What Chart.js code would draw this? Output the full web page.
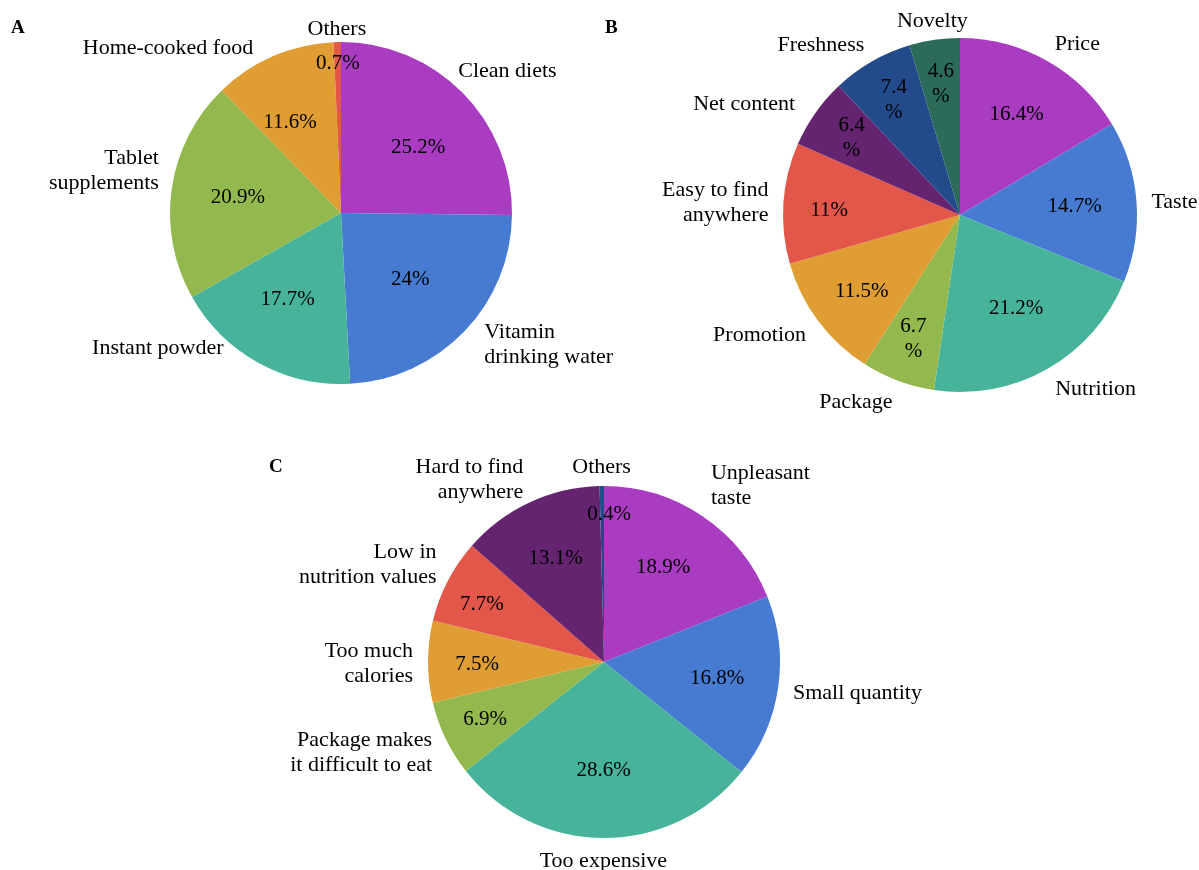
<!DOCTYPE html>
<html>
<head>
<meta charset="utf-8">
<script src="https://cdn.jsdelivr.net/npm/chart.js@4.4.0/dist/chart.umd.min.js"></script>
<style>
  body { margin: 0; background: #fff; }
  #wrap { position: relative; width: 1199px; height: 870px; }
  #wrap canvas { position: absolute; left: 0; top: 0; }
  .panel { position: absolute; font: bold 19px "Liberation Serif", "Times New Roman", serif; color: #000; }
</style>
</head>
<body>
<div id="wrap">
  <canvas id="pie-a" width="1199" height="870"></canvas>
  <canvas id="pie-b" width="1199" height="870"></canvas>
  <canvas id="pie-c" width="1199" height="870"></canvas>
  <div class="panel" style="left:11px;top:16px">A</div>
  <div class="panel" style="left:605px;top:16px">B</div>
  <div class="panel" style="left:269px;top:455px">C</div>
</div>
<script>
const FONT = '"Liberation Serif", "Times New Roman", serif';
const COLORS = ['#a93cc0', '#477bd2', '#47b39a', '#93b84d', '#df9d33', '#e3564a', '#642470', '#234b8c', '#2c6b59'];

// A: ways of getting nutrition
const A_LABELS = ['Clean diets', ['Vitamin', 'drinking water'], 'Instant powder', ['Tablet', 'supplements'], 'Home-cooked food', 'Others'];
const A_VALUES = [25.2, 24, 17.7, 20.9, 11.6, 0.7];

// B: purchase factors
const B_LABELS = ['Price', 'Taste', 'Nutrition', 'Package', 'Promotion', ['Easy to find', 'anywhere'], 'Net content', 'Freshness', 'Novelty'];
const B_VALUES = [16.4, 14.7, 21.2, 6.7, 11.5, 11, 6.4, 7.4, 4.6];

// C: reasons for not buying
const C_LABELS = [['Unpleasant', 'taste'], 'Small quantity', 'Too expensive', ['Package makes', 'it difficult to eat'], ['Too much', 'calories'], ['Low in', 'nutrition values'], ['Hard to find', 'anywhere'], 'Others'];
const C_VALUES = [18.9, 16.8, 28.6, 6.9, 7.5, 7.7, 13.1, 0.4];

// small hand nudges of the text, like the manual label moves in the original
const A_NAME_SHIFT = [[-15, -9], [9, -8], [-28, -35], [2, -16], [-14, 10], [0, 6]];
const A_PCT_SHIFT = [[-2, 13], [-11, -10], [0, -11], [7, 0], [-7, 12], [0, -6]];
const B_NAME_SHIFT = [[0, 0], [0, 0], [0, 0], [0, 0], [0, 0], [0, 0], [-8, 2], [0, 0], [0, 0]];
const B_PCT_SHIFT = [[0, 0], [0, 0], [-1, -6], [0, 0], [-6, 8], [-16, 3], [0, 0], [0, 0], [0, 0]];
const C_NAME_SHIFT = [[0, -10], [0, 0], [0, 0], [0, 0], [0, 0], [2, -5], [0, 0], [0, 0]];
const C_PCT_SHIFT = [[-5, 0], [0, 0], [0, -6], [0, 0], [5, 3], [-5, 3], [0, 0], [7, 0]];

function drawLines(ctx, lines, x, y, align, lh) {
  ctx.textAlign = align;
  ctx.textBaseline = 'middle';
  const top = y - (lines.length - 1) * lh / 2;
  lines.forEach((t, k) => ctx.fillText(t, x, top + k * lh));
}

const pieText = {
  id: 'pieText',
  afterDatasetsDraw(chart, args, opts) {
    const ctx = chart.ctx;
    const meta = chart.getDatasetMeta(0);
    const values = chart.data.datasets[0].data;
    const labels = chart.data.labels;
    const lh = 25;
    ctx.save();
    ctx.fillStyle = '#000';
    meta.data.forEach((arc, i) => {
      const p = arc.getProps(['x', 'y', 'startAngle', 'endAngle', 'outerRadius'], true);
      const mid = (p.startAngle + p.endAngle) / 2;
      const cos = Math.cos(mid), sin = Math.sin(mid);

      // percentage inside the slice
      const v = values[i];
      const frac = v < 2 ? 0.84 : v < 10 ? 0.75 : 0.65;
      const pct = v < opts.wrapBelow ? [`${v}`, '%'] : [`${v}%`];
      const ps = opts.pctShift[i];
      ctx.font = `21px ${FONT}`;
      drawLines(ctx, pct, p.x + cos * p.outerRadius * frac + ps[0], p.y + sin * p.outerRadius * frac + ps[1], 'center', lh);

      // category name outside
      const r = p.outerRadius + 15;
      const lines = [].concat(labels[i]);
      const align = cos > 0.2 ? 'left' : cos < -0.2 ? 'right' : 'center';
      const ns = opts.nameShift[i];
      const ay = p.y + sin * r + sin * lines.length * lh / 4 + 2 + ns[1];
      ctx.font = `22px ${FONT}`;
      drawLines(ctx, lines, p.x + cos * r + ns[0], ay, align, lh);
    });
    ctx.restore();
  }
};

function make_pie(id, labels, values, cx, cy, r, wrapBelow, nameShift, pctShift) {
  return new Chart(document.getElementById(id), {
    type: 'pie',
    data: {
      labels: labels,
      datasets: [{
        data: values,
        backgroundColor: COLORS.slice(0, values.length),
        borderWidth: 0,
        hoverOffset: 0,
        offset: 0
      }]
    },
    options: {
      responsive: false,
      animation: false,
      events: [],
      layout: {
        padding: { left: cx - r, right: 1199 - cx - r, top: cy - r, bottom: 870 - cy - r }
      },
      plugins: {
        legend: { display: false },
        tooltip: { enabled: false },
        pieText: { wrapBelow: wrapBelow, nameShift: nameShift, pctShift: pctShift }
      }
    },
    plugins: [pieText]
  });
}

make_pie('pie-a', A_LABELS, A_VALUES, 341, 213, 171, 0, A_NAME_SHIFT, A_PCT_SHIFT);
make_pie('pie-b', B_LABELS, B_VALUES, 960, 215, 177, 8, B_NAME_SHIFT, B_PCT_SHIFT);
make_pie('pie-c', C_LABELS, C_VALUES, 604, 662, 176, 0, C_NAME_SHIFT, C_PCT_SHIFT);
</script>
</body>
</html>
